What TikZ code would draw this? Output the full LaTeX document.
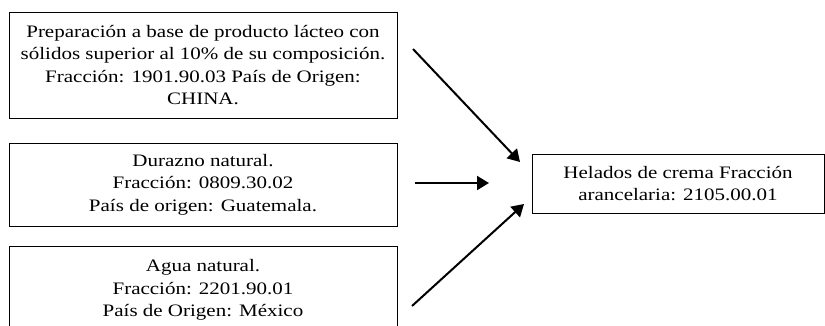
\documentclass[tikz,border=0pt]{standalone}
\usepackage{fontspec}
\setmainfont[FakeStretch=1.2]{Liberation Serif}
\usetikzlibrary{arrows.meta}
\tikzset{
  caja/.style={draw, line width=0.8pt, align=center, inner sep=0pt, font=\fontsize{17.5}{22.5}\selectfont},
  flecha/.style={-{Triangle[length=12pt,width=14pt]}, line width=2pt}
}
\begin{document}
\begin{tikzpicture}[x=1pt,y=-1pt]
        \useasboundingbox (0,0) rectangle (825,325);
        % boxes
        \node[caja, minimum width=388, minimum height=106] (prep) at (203,65) {Preparación a base de producto lácteo con\\ sólidos superior al 10\% de su composición.\\ Fracción: 1901.90.03 País de Origen:\\ CHINA.};
        \node[caja, minimum width=388, minimum height=83] (durazno) at (203,184.5) {Durazno natural.\\ Fracción: 0809.30.02\\ País de origen: Guatemala.};
        \node[caja, minimum width=388, minimum height=88] (agua) at (203,290) {Agua natural.\\ Fracción: 2201.90.01\\ País de Origen: México};
        \node[caja, minimum width=292, minimum height=59] (helados) at (678,183.5) {Helados de crema Fracción\\ arancelaria: 2105.00.01};
        
        % arrows
        \coordinate (ini1) at (413,49);
        \coordinate (fin1) at (520,162);
        \coordinate (ini2) at (415,183);
        \coordinate (fin2) at (489,183);
        \coordinate (ini3) at (412,306);
        \coordinate (fin3) at (524,204);
        \draw[flecha] (ini1) -- (fin1);
        \draw[flecha] (ini2) -- (fin2);
        \draw[flecha] (ini3) -- (fin3);
        
    \end{tikzpicture}
\end{document}
